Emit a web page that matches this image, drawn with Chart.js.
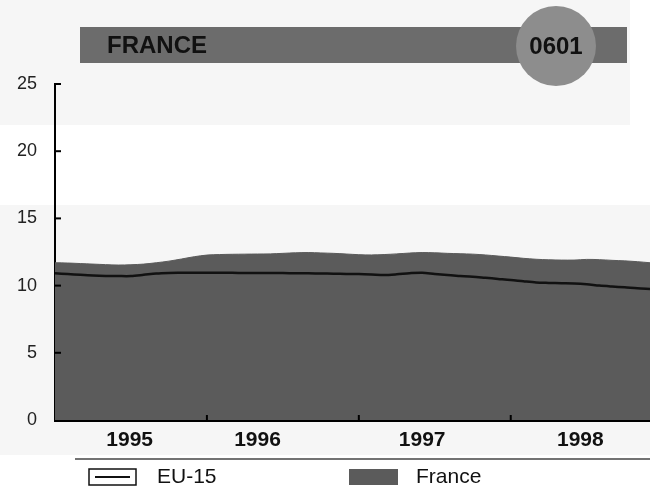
<!DOCTYPE html>
<html>
<head>
<meta charset="utf-8">
<script src="https://cdn.jsdelivr.net/npm/chart.js@4.4.1/dist/chart.umd.min.js"></script>
<style>
  html, body { margin: 0; padding: 0; background: #fff; }
  canvas { display: block; }
</style>
</head>
<body>
<canvas id="chart" width="650" height="492"></canvas>
<script>
// year labels and where they sit (month index from Jan 1995)
var years = ['1995', '1996', '1997', '1998'];
var yearLabelAt = [5.9, 16, 29, 41.5];
var yearBreaks = [12, 24, 36];
var yTicks = [0, 5, 10, 15, 20, 25];

// monthly values, Jan 1995 .. Dec 1998
var france = [11.7, 11.68, 11.64, 11.6, 11.56, 11.53, 11.55, 11.6, 11.7, 11.82, 11.98, 12.15,
              12.27, 12.31, 12.33, 12.34, 12.35, 12.36, 12.4, 12.44, 12.46, 12.43, 12.4, 12.35,
              12.3, 12.28, 12.31, 12.36, 12.42, 12.46, 12.44, 12.4, 12.37, 12.34, 12.28, 12.2,
              12.12, 12.03, 11.96, 11.92, 11.9, 11.9, 11.95, 11.93, 11.88, 11.84, 11.78, 11.7];
var eu15 = [10.92, 10.86, 10.8, 10.75, 10.72, 10.71, 10.71, 10.8, 10.9, 10.94, 10.95, 10.96,
            10.96, 10.95, 10.95, 10.94, 10.94, 10.93, 10.93, 10.92, 10.92, 10.9, 10.89, 10.87,
            10.86, 10.83, 10.79, 10.84, 10.92, 10.96, 10.86, 10.78, 10.72, 10.66, 10.58, 10.5,
            10.42, 10.32, 10.23, 10.2, 10.18, 10.16, 10.1, 10.0, 9.93, 9.87, 9.8, 9.75];

var FONT = '"Liberation Sans", Arial, Helvetica, sans-serif';
var fillGrey = '#5b5b5b';

function points(arr) {
    return arr.map(function (v, i) { return { x: i, y: v }; });
}

// background panels, title bar, extra ticks and the legend
var decor = {
    id: 'decor',
    beforeDraw: function (chart) {
        var c = chart.ctx;
        c.save();
        c.fillStyle = '#f6f6f6';
        c.fillRect(0, 0, chart.width, chart.height);
        c.fillStyle = '#ffffff';
        c.fillRect(630, 0, 20, 125);
        c.fillRect(0, 125, 650, 80);
        c.fillRect(0, 455, 650, 37);

        // title bar
        c.fillStyle = '#6c6c6c';
        c.fillRect(80, 27, 547, 36);
        c.fillStyle = '#8d8d8d';
        c.beginPath();
        c.arc(556, 46, 40, 0, Math.PI * 2);
        c.fill();
        c.fillStyle = '#111';
        c.font = 'bold 24px ' + FONT;
        c.textBaseline = 'middle';
        c.textAlign = 'left';
        c.fillText('FRANCE', 107, 46);
        c.textAlign = 'center';
        c.fillText('0601', 556, 47);
        c.restore();
    },
    afterDraw: function (chart) {
        var c = chart.ctx, ys = chart.scales.y, xs = chart.scales.x;
        var area = chart.chartArea;
        c.save();
        c.strokeStyle = '#000';
        c.lineWidth = 2;
        // y ticks pointing into the plot
        yTicks.forEach(function (v) {
            if (v === 0) return;
            var y = ys.getPixelForValue(v);
            c.beginPath();
            c.moveTo(area.left, y);
            c.lineTo(area.left + 6, y);
            c.stroke();
        });
        // year boundaries on the time axis
        yearBreaks.forEach(function (m) {
            var x = xs.getPixelForValue(m);
            c.beginPath();
            c.moveTo(x, area.bottom);
            c.lineTo(x, area.bottom - 5);
            c.stroke();
        });

        // legend
        c.strokeStyle = '#444';
        c.lineWidth = 1.5;
        c.beginPath();
        c.moveTo(75, 459);
        c.lineTo(650, 459);
        c.stroke();

        c.fillStyle = '#fff';
        c.fillRect(89, 469, 47, 16);
        c.strokeStyle = '#111';
        c.lineWidth = 1.5;
        c.strokeRect(89, 469, 47, 16);
        c.lineWidth = 2;
        c.beginPath();
        c.moveTo(95, 477);
        c.lineTo(130, 477);
        c.stroke();

        c.fillStyle = fillGrey;
        c.fillRect(349, 469, 49, 16);

        c.fillStyle = '#111';
        c.font = '21px ' + FONT;
        c.textAlign = 'left';
        c.textBaseline = 'middle';
        c.fillText(chart.data.datasets[0].label, 157, 477);
        c.fillText(chart.data.datasets[1].label, 416, 477);
        c.restore();
    }
};

new Chart(document.getElementById('chart'), {
    type: 'line',
    data: {
        datasets: [
            {
                label: 'EU-15',
                data: points(eu15),
                borderColor: '#111',
                borderWidth: 2.5,
                fill: false,
                pointRadius: 0,
                tension: 0.3
            },
            {
                label: 'France',
                data: points(france),
                borderColor: fillGrey,
                backgroundColor: fillGrey,
                borderWidth: 1,
                fill: 'origin',
                pointRadius: 0,
                tension: 0.3
            }
        ]
    },
    options: {
        responsive: false,
        animation: false,
        devicePixelRatio: 1,
        layout: { padding: { top: 84, right: 0, bottom: 0, left: 0 } },
        plugins: {
            legend: { display: false },
            tooltip: { enabled: false }
        },
        scales: {
            x: {
                type: 'linear',
                min: 0,
                max: 47,
                grid: { display: false, drawTicks: false },
                border: { display: true, color: '#000', width: 3 },
                afterBuildTicks: function (axis) {
                    axis.ticks = yearLabelAt.map(function (v) { return { value: v }; });
                },
                afterFit: function (axis) { axis.height = 72; },
                ticks: {
                    autoSkip: false,
                    maxRotation: 0,
                    padding: 8,
                    color: '#111',
                    font: { family: FONT, size: 21, weight: 'bold' },
                    callback: function (v) {
                        var i = yearLabelAt.indexOf(v);
                        return i >= 0 ? years[i] : '';
                    }
                }
            },
            y: {
                min: 0,
                max: 25,
                grid: { display: false, drawTicks: false },
                border: { display: true, color: '#000', width: 2 },
                afterBuildTicks: function (axis) {
                    axis.ticks = yTicks.map(function (v) { return { value: v }; });
                },
                afterFit: function (axis) { axis.width = 55; },
                ticks: {
                    padding: 18,
                    color: '#222',
                    font: { family: FONT, size: 18 }
                }
            }
        }
    },
    plugins: [decor]
});
</script>
</body>
</html>
